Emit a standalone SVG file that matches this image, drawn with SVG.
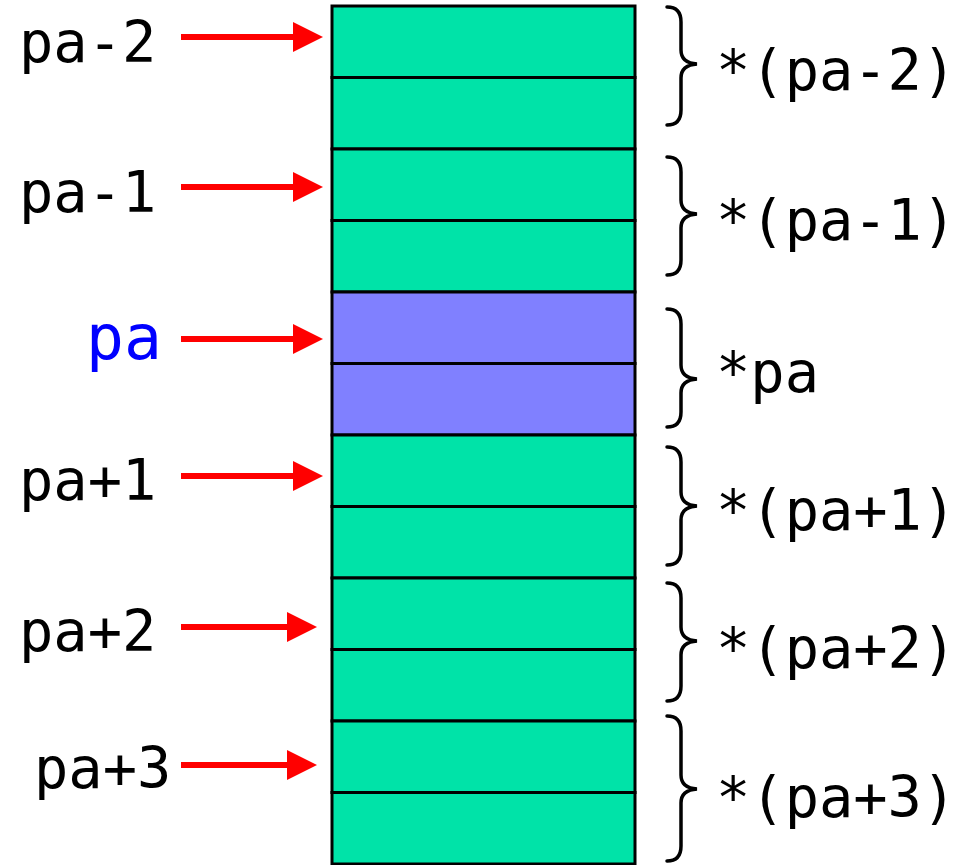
<svg xmlns="http://www.w3.org/2000/svg" width="969" height="865" viewBox="0 0 969 865">
<style>
.cell{fill:#00E3A8;stroke:#000;stroke-width:3}
.cur{fill:#8080FF;stroke:#000;stroke-width:3}
.lbl{font-family:"DejaVu Sans Mono","Liberation Mono",monospace;font-size:57px;fill:#000}
.blue{fill:#0000FF;font-size:63px}
.arr{stroke:#FF0000;stroke-width:6;fill:none}
.brace{stroke:#000;stroke-width:3.5;fill:none;stroke-linecap:round}
</style>
<defs>
<marker id="ah" markerUnits="userSpaceOnUse" markerWidth="32" markerHeight="32" refX="6" refY="15" orient="auto">
<path d="M0,0 L30,15 L0,30 Z" fill="#FF0000"/>
</marker>
</defs>
<g id="memory">
<rect class="cell" x="332" y="6" width="303" height="71.5"/>
<rect class="cell" x="332" y="77.5" width="303" height="71.5"/>
<rect class="cell" x="332" y="149" width="303" height="71.5"/>
<rect class="cell" x="332" y="220.5" width="303" height="71.5"/>
<rect class="cur" x="332" y="292" width="303" height="71.5"/>
<rect class="cur" x="332" y="363.5" width="303" height="71.5"/>
<rect class="cell" x="332" y="435" width="303" height="71.5"/>
<rect class="cell" x="332" y="506.5" width="303" height="71.5"/>
<rect class="cell" x="332" y="578" width="303" height="71.5"/>
<rect class="cell" x="332" y="649.5" width="303" height="71.5"/>
<rect class="cell" x="332" y="721" width="303" height="71.5"/>
<rect class="cell" x="332" y="792.5" width="303" height="71.5"/>
</g>
<g id="pointers">
<text class="lbl" x="19" y="62">pa-2</text>
<text class="lbl" x="19" y="212">pa-1</text>
<text class="lbl blue" x="86" y="359">pa</text>
<text class="lbl" x="19" y="500">pa+1</text>
<text class="lbl" x="19" y="651">pa+2</text>
<text class="lbl" x="34" y="788">pa+3</text>
</g>
<g id="connectors">
<line class="arr" x1="181" y1="37" x2="299" y2="37" marker-end="url(#ah)"/>
<line class="arr" x1="181" y1="187" x2="299" y2="187" marker-end="url(#ah)"/>
<line class="arr" x1="181" y1="339" x2="299" y2="339" marker-end="url(#ah)"/>
<line class="arr" x1="181" y1="476" x2="299" y2="476" marker-end="url(#ah)"/>
<line class="arr" x1="181" y1="627" x2="293" y2="627" marker-end="url(#ah)"/>
<line class="arr" x1="181" y1="765" x2="293" y2="765" marker-end="url(#ah)"/>
</g>
<g id="braces">
<path class="brace" d="M667,7 Q681,7 681,22 L681,50 Q681,63 697,64 Q681,65 681,78 L681,110 Q681,125 667,125"/>
<path class="brace" d="M667,157 Q681,157 681,172 L681,200 Q681,213 697,214 Q681,215 681,228 L681,260 Q681,275 667,275"/>
<path class="brace" d="M667,309 Q681,309 681,324 L681,365 Q681,378 697,379 Q681,380 681,393 L681,412 Q681,427 667,427"/>
<path class="brace" d="M667,447 Q681,447 681,462 L681,492 Q681,505 697,506 Q681,507 681,520 L681,550 Q681,565 667,565"/>
<path class="brace" d="M667,583 Q681,583 681,598 L681,627 Q681,640 697,641 Q681,642 681,655 L681,686 Q681,701 667,701"/>
<path class="brace" d="M667,716 Q681,716 681,731 L681,775 Q681,788 697,789 Q681,790 681,803 L681,846 Q681,861 667,861"/>
</g>
<g id="values">
<text class="lbl" x="716" y="90">*(pa-2)</text>
<text class="lbl" x="716" y="240">*(pa-1)</text>
<text class="lbl" x="716" y="392">*pa</text>
<text class="lbl" x="716" y="530">*(pa+1)</text>
<text class="lbl" x="716" y="668">*(pa+2)</text>
<text class="lbl" x="716" y="817">*(pa+3)</text>
</g>
</svg>
